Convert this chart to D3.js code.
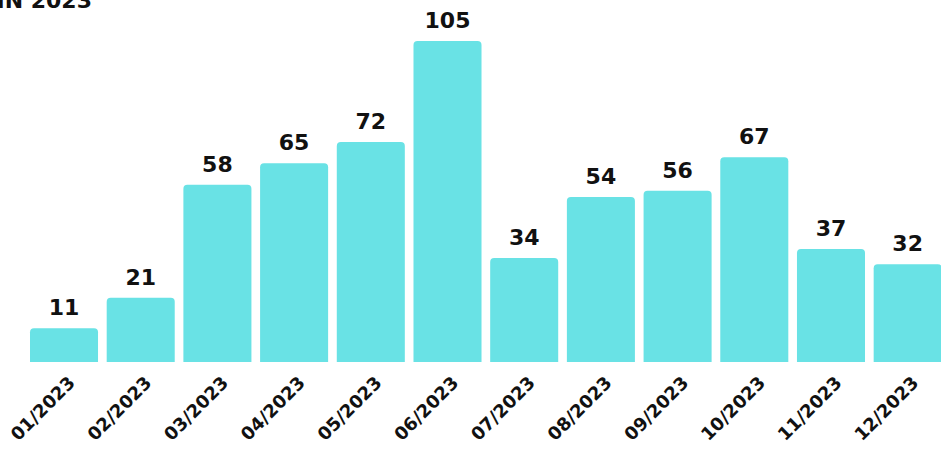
<!DOCTYPE html>
<html><head><meta charset="utf-8">
<script src="https://cdn.jsdelivr.net/npm/d3@7"></script>
<style>body{margin:0;background:#fff}svg{display:block}</style>
</head><body>
<svg id="chart" width="941" height="450"></svg>
<script>
const categories = ["01/2023","02/2023","03/2023","04/2023","05/2023","06/2023","07/2023","08/2023","09/2023","10/2023","11/2023","12/2023"];
const values = [11,21,58,65,72,105,34,54,56,67,37,32];
const titleText = "IN 2023";

const svg = d3.select("#chart");
const font = "'DejaVu Sans', 'Open Sans', sans-serif";
const x = d3.scaleBand().domain(categories).range([30, 941.7]).paddingInner(0.113).paddingOuter(0);
const y = d3.scaleLinear().domain([0, 105]).range([362, 41]);

svg.append("text").attr("x", 92).attr("y", 8).attr("text-anchor", "end")
  .attr("font-family", font).attr("font-weight", 700).attr("font-size", 22).attr("fill", "#111")
  .text(titleText);

const r = 4;
function barPath(x0, w, yt, yb) {
  return `M${x0},${yb}V${yt + r}Q${x0},${yt} ${x0 + r},${yt}H${x0 + w - r}Q${x0 + w},${yt} ${x0 + w},${yt + r}V${yb}Z`;
}
const data = categories.map((c, i) => ({c, v: values[i]}));
svg.append("g").selectAll("path").data(data).join("path")
  .attr("d", d => barPath(x(d.c), x.bandwidth(), y(d.v), y(0)))
  .attr("fill", "#69E2E5");

svg.append("g").selectAll("text").data(data).join("text")
  .attr("x", d => x(d.c) + x.bandwidth() / 2)
  .attr("y", d => y(d.v) - 13)
  .attr("text-anchor", "middle")
  .attr("font-family", font).attr("font-weight", 700).attr("font-size", 22).attr("fill", "#111")
  .text(d => d.v);

const axis = d3.axisBottom(x).tickSize(0).tickPadding(0);
const ag = svg.append("g").attr("transform", `translate(0,${y(0)})`).call(axis);
ag.select(".domain").remove();
ag.selectAll("text")
  .attr("font-family", font).attr("font-weight", 700).attr("font-size", 18).attr("fill", "#111")
  .attr("text-anchor", "end").attr("dy", 0).attr("y", 0)
  .attr("transform", "translate(12,22) rotate(-45)");
</script>
</body></html>
